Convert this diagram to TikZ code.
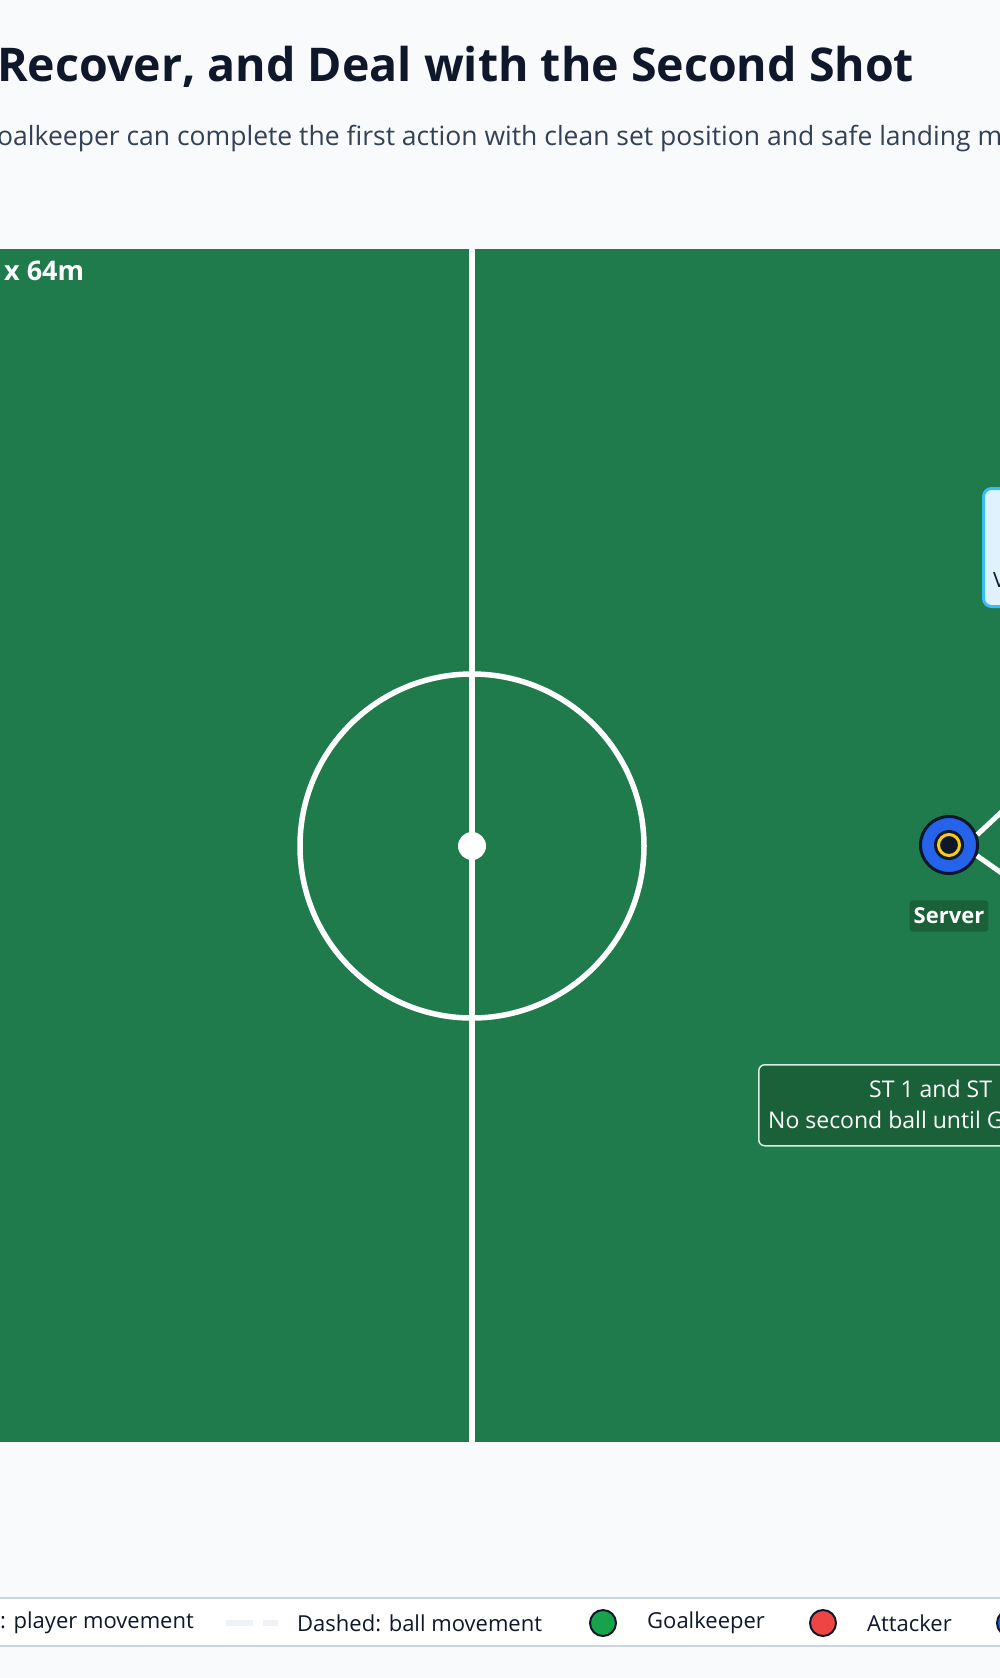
\documentclass[tikz,border=0pt]{standalone}
\usepackage{fontspec}
\setmainfont{Open Sans}
\usepackage{tikz}
\usetikzlibrary{positioning}

\definecolor{pagebg}{HTML}{F8FAFC}
\definecolor{pitchgreen}{HTML}{1F7A4C}
\definecolor{darkgreen}{HTML}{1A6139}
\definecolor{ink}{HTML}{0F172A}
\definecolor{slate}{HTML}{334155}
\definecolor{rim}{HTML}{CBD5E1}
\definecolor{paledash}{HTML}{EEF2F6}
\definecolor{infofill}{HTML}{E0F2FE}
\definecolor{infoedge}{HTML}{38BDF8}
\definecolor{serverblue}{HTML}{2563EB}
\definecolor{ringgold}{HTML}{FACC15}
\definecolor{keepergreen}{HTML}{16A34A}
\definecolor{attackred}{HTML}{EF4444}

\tikzset{
  pitchline/.style={white, line width=5.5pt},
  tag/.style={fill=darkgreen, rounded corners=3pt, text=white,
    font=\bfseries\fontsize{22}{26}\selectfont, inner xsep=4pt, inner ysep=7.5pt},
  plain/.style={anchor=west, inner sep=0pt},
  legendtext/.style={plain, text=ink, font=\fontsize{22}{26}\selectfont},
  legenddot/.style={circle, draw=ink, line width=2pt, minimum size=26pt, inner sep=0pt},
}

\begin{document}
\begin{tikzpicture}[x=1pt, y=-1pt]
  \useasboundingbox (0,0) rectangle (1000,1678);
  \clip (0,0) rectangle (1000,1678);
  \fill[pagebg] (0,0) rectangle (1000,1678);

  % heading
  \node[plain, text=ink, font=\bfseries\fontsize{46.5}{56}\selectfont] (title) at (-3,67)
    {Recover, and Deal with the Second Shot};
  \node[plain, text=slate, font=\fontsize{26.5}{31}\selectfont] (subtitle) at (-3,139)
    {oalkeeper can complete the first action with clean set position and safe landing m};

  % pitch
  \fill[pitchgreen] (-20,249) rectangle (1020,1442);
  \draw[pitchline] (472,249) -- (472,1442);
  \draw[pitchline] (472,846) circle[radius=172pt];
  \fill[white] (472,846) circle[radius=14pt];
  \node[plain, text=white, font=\bfseries\fontsize{27}{32}\selectfont] (size) at (4,271) {x 64m};

  % coaching box, top right
  \node[draw=infoedge, fill=infofill, line width=3pt, rounded corners=8pt,
    anchor=north west, minimum width=90pt, minimum height=118pt] (infobox) at (982,487) {};
  \node[plain, text=ink, font=\fontsize{21}{25}\selectfont] (infotext) at (993,580) {V};

  % server and passes
  \node[circle, fill=serverblue, draw=ink, line width=3pt, minimum size=57pt, inner sep=0pt]
    (server) at (949,845) {};
  \fill[ink] (server) circle[radius=15pt];
  \draw[ringgold, line width=3pt] (server) circle[radius=10.5pt];
  \node[tag] (serverlabel) at (949,916) {Server};
  \coordinate (passhigh) at (1040,776);
  \coordinate (passlow) at (1040,900);
  \draw[white, line width=5pt] (server.20) -- (passhigh);
  \draw[white, line width=5pt] (server.-21) -- (passlow);

  % rule note
  \node[draw=white!85!pitchgreen, fill=darkgreen, line width=1.5pt, rounded corners=6pt,
    anchor=north west, minimum width=320pt, minimum height=81pt] (notebox) at (758,1064) {};
  \node[plain, text=white, font=\fontsize{23}{28}\selectfont] (noteone) at (869,1089) {ST 1 and ST};
  \node[plain, text=white, font=\fontsize{23}{28}\selectfont] (notetwo) at (768,1120) {No second ball until G};

  % legend
  \draw[rim, fill=white, line width=2pt] (-20,1598) rectangle (1020,1646);
  \node[legendtext] (lgrun) at (0,1623) {: player movement};
  \coordinate (dashfrom) at (226,1623);
  \coordinate (dashto) at (278,1623);
  \draw[paledash, line width=6pt, dash pattern=on 27pt off 10pt] (dashfrom) -- (dashto);
  \node[legendtext] (lgpass) at (297,1623) {Dashed: ball movement};
  \foreach \col/\xpos/\txt [count=\i] in {keepergreen/603/Goalkeeper, attackred/823/Attacker}
  {
    \node[legenddot, fill=\col] (dot\i) at (\xpos,1623) {};
    \node[legendtext] (lgtxt\i) at (\xpos+44,1623) {\txt};
  }
  \node[legenddot, fill=serverblue] (dot3) at (1010,1623) {};
\end{tikzpicture}
\end{document}
